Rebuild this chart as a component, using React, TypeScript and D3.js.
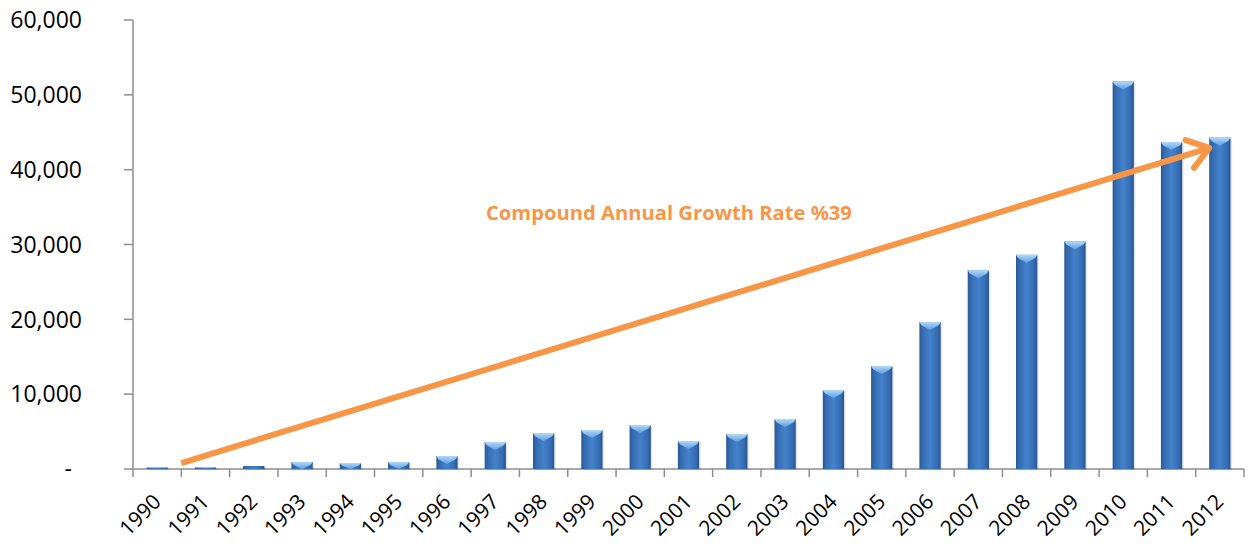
import { useEffect, useRef } from "react";
import * as d3 from "d3";

const years = [
  "1990", "1991", "1992", "1993", "1994", "1995", "1996", "1997", "1998", "1999", "2000", "2001",
  "2002", "2003", "2004", "2005", "2006", "2007", "2008", "2009", "2010", "2011", "2012",
];
const values = [
  100, 130, 400, 940, 800, 940, 1740, 3600, 4800, 5200, 5880, 3740,
  4680, 6680, 10560, 13770, 19650, 26550, 28620, 30420, 51780, 43700, 44280,
];
const yTicks = [0, 10000, 20000, 30000, 40000, 50000, 60000];
const cagrLabel = "Compound Annual Growth Rate %39";
// arrow runs from the 1990/1991 boundary up to the 2012 bar
const arrowFrom = { year: "1991", value: 800 };
const arrowTo = { year: "2012", value: 42900 };

const W = 1250;
const H = 545;
const orange = "#F79646";

export default function App() {
  const ref = useRef<SVGSVGElement>(null);

  useEffect(() => {
    const svg = d3.select(ref.current);
    svg.selectAll("*").remove();

    const left = 133, right = 1244, top = 20, bottom = 469;
    const x = d3.scaleBand().domain(years).range([left, right]).padding(0);
    const y = d3.scaleLinear().domain([0, 60000]).range([bottom, top]);
    const bw = x.bandwidth() * 0.44;
    const axisColor = "#8e8e8e";

    const defs = svg.append("defs");
    const grad = defs.append("linearGradient").attr("id", "barGrad")
      .attr("x1", 0).attr("x2", 1).attr("y1", 0).attr("y2", 0);
    [["0%", "#2a5894"], ["15%", "#356bb0"], ["50%", "#4482cd"], ["85%", "#356bb0"], ["100%", "#28538e"]]
      .forEach(([o, c]) => grad.append("stop").attr("offset", o).attr("stop-color", c));
    const capGrad = defs.append("linearGradient").attr("id", "capGrad")
      .attr("x1", 0).attr("x2", 0).attr("y1", 0).attr("y2", 1);
    capGrad.append("stop").attr("offset", "0%").attr("stop-color", "#b3d8f7");
    capGrad.append("stop").attr("offset", "100%").attr("stop-color", "#5d9fe2");

    // y axis
    const g = svg.append("g");
    g.append("line").attr("x1", left).attr("x2", left).attr("y1", top).attr("y2", bottom)
      .attr("stroke", axisColor).attr("stroke-width", 1.5);
    yTicks.forEach((t) => {
      g.append("line").attr("x1", left - 9).attr("x2", left).attr("y1", y(t)).attr("y2", y(t))
        .attr("stroke", axisColor).attr("stroke-width", 1.5);
      g.append("text")
        .attr("x", t === 0 ? 72 : 82)
        .attr("y", y(t))
        .attr("dy", "0.36em")
        .attr("text-anchor", "end")
        .style("font-family", "'Open Sans', sans-serif")
        .style("font-size", "23px")
        .attr("fill", "#000")
        .text(t === 0 ? "-" : d3.format(",")(t));
    });

    // bars
    const bars = svg.append("g");
    years.forEach((yr, i) => {
      const cx = (x(yr) as number) + x.bandwidth() / 2;
      const y0 = y(values[i]);
      const h = Math.max(bottom - y0, 1.5);
      const bx = cx - bw / 2;
      const ty = bottom - h;
      bars.append("rect").attr("x", bx + 1.5).attr("y", ty + 1).attr("width", bw).attr("height", h)
        .attr("fill", "#000").attr("opacity", 0.1);
      bars.append("rect").attr("x", bx).attr("y", ty).attr("width", bw).attr("height", h)
        .attr("fill", "url(#barGrad)");
      const capH = Math.min(8, h);
      if (h > 3) {
        bars.append("path")
          .attr("d", `M${bx},${ty} L${bx + bw},${ty} L${bx + bw - 2},${ty + capH * 0.4} L${cx},${ty + capH} L${bx + 2},${ty + capH * 0.4} Z`)
          .attr("fill", "url(#capGrad)");
      }
    });

    // x axis
    g.append("line").attr("x1", left).attr("x2", right).attr("y1", bottom).attr("y2", bottom)
      .attr("stroke", axisColor).attr("stroke-width", 1.5);
    [...years.map((yr) => x(yr) as number), right].forEach((tx) => {
      g.append("line").attr("x1", tx).attr("x2", tx).attr("y1", bottom).attr("y2", bottom + 8)
        .attr("stroke", axisColor).attr("stroke-width", 1.5);
    });
    years.forEach((yr) => {
      const cx = (x(yr) as number) + x.bandwidth() / 2;
      g.append("text")
        .attr("transform", `translate(${cx + 5},${bottom + 34}) rotate(-45)`)
        .attr("text-anchor", "end")
        .style("font-family", "'Open Sans', sans-serif")
        .style("font-size", "21px")
        .attr("fill", "#000")
        .text(yr);
    });

    // growth arrow
    const x1 = x(arrowFrom.year) as number;
    const y1 = y(arrowFrom.value);
    const x2 = (x(arrowTo.year) as number) + (x.bandwidth() - bw) / 2;
    const y2 = y(arrowTo.value);
    const ang = Math.atan2(y2 - y1, x2 - x1);
    const headLen = 25;
    const spread = 0.62;
    const a1 = [x2 - headLen * Math.cos(ang - spread), y2 - headLen * Math.sin(ang - spread)];
    const a2 = [x2 - headLen * Math.cos(ang + spread), y2 - headLen * Math.sin(ang + spread)];
    const arrow = svg.append("g").attr("stroke", orange).attr("stroke-width", 6)
      .attr("stroke-linecap", "round").attr("stroke-linejoin", "round").attr("fill", "none");
    arrow.append("line").attr("x1", x1).attr("y1", y1).attr("x2", x2 - 2 * Math.cos(ang)).attr("y2", y2 - 2 * Math.sin(ang))
      .attr("stroke-linecap", "butt");
    arrow.append("path").attr("d", `M${a1[0]},${a1[1]} L${x2},${y2} L${a2[0]},${a2[1]}`);

    svg.append("text")
      .attr("x", 486)
      .attr("y", 220)
      .style("font-family", "'Open Sans', sans-serif")
      .style("font-size", "20.2px")
      .style("font-weight", "bold")
      .attr("fill", orange)
      .text(cagrLabel);
  }, []);

  return (
    <div style={{ position: "absolute", left: 0, top: 0, background: "#fff" }}>
      <svg ref={ref} width={W} height={H} />
    </div>
  );
}
